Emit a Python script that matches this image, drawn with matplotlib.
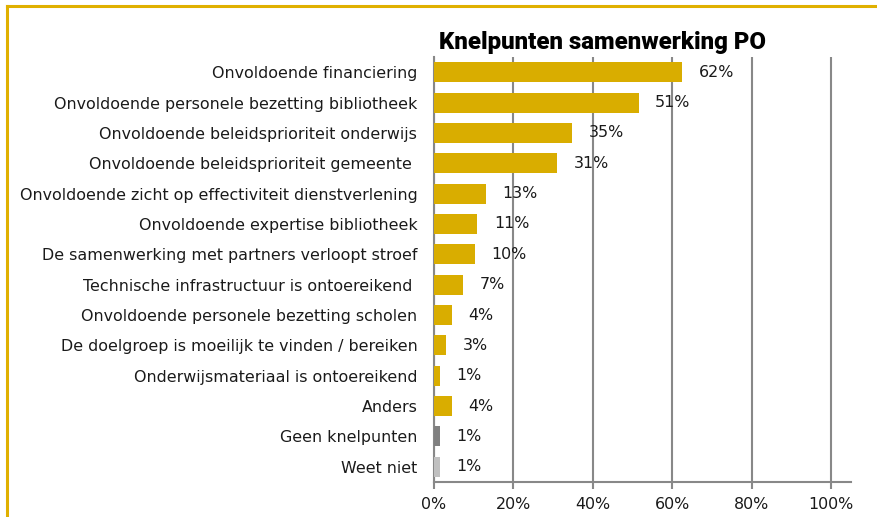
import matplotlib
matplotlib.use("Agg")
import matplotlib.pyplot as plt
from matplotlib.lines import Line2D
from matplotlib.ticker import FuncFormatter

categories = [
    "Onvoldoende financiering",
    "Onvoldoende personele bezetting bibliotheek",
    "Onvoldoende beleidsprioriteit onderwijs",
    "Onvoldoende beleidsprioriteit gemeente ",
    "Onvoldoende zicht op effectiviteit dienstverlening",
    "Onvoldoende expertise bibliotheek",
    "De samenwerking met partners verloopt stroef",
    "Technische infrastructuur is ontoereikend ",
    "Onvoldoende personele bezetting scholen",
    "De doelgroep is moeilijk te vinden / bereiken",
    "Onderwijsmateriaal is ontoereikend",
    "Anders",
    "Geen knelpunten",
    "Weet niet",
]
values = [62.4, 51.5, 34.8, 31.0, 13.1, 10.9, 10.2, 7.3, 4.5, 3.0, 1.5, 4.5, 1.5, 1.5]
labels = ["62%", "51%", "35%", "31%", "13%", "11%", "10%", "7%", "4%", "3%", "1%", "4%", "1%", "1%"]
xticks = [0, 20, 40, 60, 80, 100]

gold = "#D9AD00"
colors = [gold] * 12 + ["#808080", "#C0C0C0"]

plt.rcParams["font.family"] = ["DejaVu Sans"]
FS = 11.4

fig = plt.figure(figsize=(8.78, 5.17), dpi=100)
ax = fig.add_axes([434 / 878, 1 - 482 / 517, (851 - 434) / 878, (482 - 57) / 517])

y = list(range(len(categories)))
ax.barh(y, values, height=0.66, color=colors, zorder=3)
for yi, v, lab in zip(y, values, labels):
    ax.annotate(lab, (v, yi), xytext=(12, 0), textcoords="offset points",
                va="center", ha="left", fontsize=FS, color="#1a1a1a", zorder=4)

ax.set_ylim(len(categories) - 0.5, -0.5)
ax.set_xlim(0, 105)
ax.set_yticks(y)
ax.set_yticklabels(categories, fontsize=FS, color="#1a1a1a")
ax.set_xticks(xticks)
ax.xaxis.set_major_formatter(FuncFormatter(lambda v, p: f"{int(v)}%"))
ax.tick_params(axis="y", length=0, pad=12)
ax.tick_params(axis="x", length=5, width=1.5, color="#888888", labelsize=FS,
               labelcolor="#1a1a1a", pad=6)
ax.grid(axis="x", color="#888888", linewidth=1.5, zorder=0)
ax.set_axisbelow(True)
for s in ["top", "right"]:
    ax.spines[s].set_visible(False)
ax.spines["left"].set_color("#888888")
ax.spines["left"].set_linewidth(1.5)
ax.spines["bottom"].set_color("#888888")
ax.spines["bottom"].set_linewidth(1.5)

fig.text(439 / 878, 1 - 42 / 517, "Knelpunten samenwerking PO", fontsize=17.3,
         fontweight="heavy", family=["Roboto", "DejaVu Sans"], ha="left", va="center",
         color="#000000")

# golden frame on top and left
fig.add_artist(Line2D([7.5 / 878, 1], [1 - 5.5 / 517, 1 - 5.5 / 517],
                      transform=fig.transFigure, color="#E0B000", linewidth=2.2))
fig.add_artist(Line2D([7.5 / 878, 7.5 / 878], [1 - 5.5 / 517, 0],
                      transform=fig.transFigure, color="#E0B000", linewidth=2.2))

fig.savefig("out.png", dpi=100)
